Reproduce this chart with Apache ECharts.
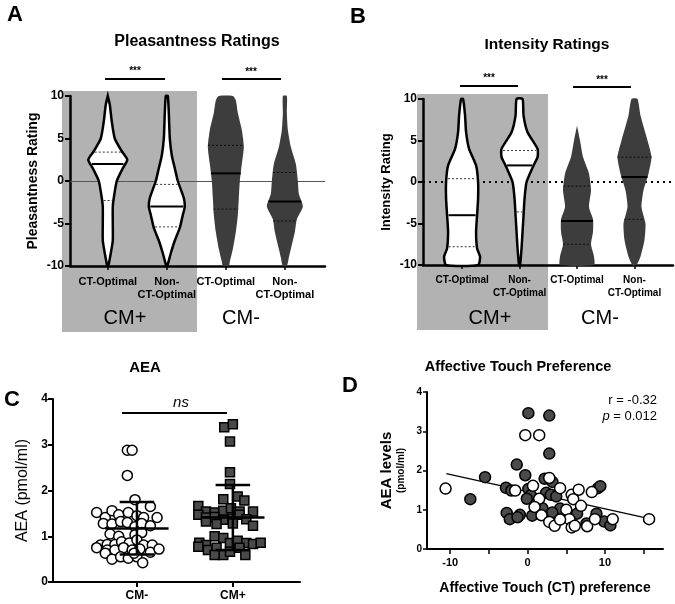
<!DOCTYPE html>
<html>
<head>
<meta charset="utf-8">
<script src="https://cdn.jsdelivr.net/npm/echarts@6/dist/echarts.min.js"></script>
<style>html,body{margin:0;padding:0;background:#fff}#main{width:675px;height:604px}</style>
</head>
<body>
<div id="main"></div>
<script>
// violin profiles: [rating, density(px half width)]
var pleasCtPlus = [[10,0],[9,2],[7,4],[5,7],[3.5,14],[2.5,19.5],[1.5,15],[0,9],[-2,6],[-3,5],[-5,5],[-7,5],[-8.5,3],[-10,0.5]];
var pleasNonPlus = [[10,1],[8,2],[5,3],[3,5],[1.5,8],[0,11],[-2,17],[-3,18],[-4,16],[-5.5,13],[-7,8],[-8.5,4],[-10,0.5]];
var pleasCtMinus = [[10,7],[9.5,10],[8,12],[6,16],[4,18],[2,16],[0,14],[-2,13],[-4,12],[-6,10],[-8,7],[-9.5,4],[-10,3]];
var pleasNonMinus = [[10,2],[8,2],[6,3],[4,6],[2,11],[0,13],[-1.5,14],[-3,18],[-4.5,12],[-6,10],[-8,6],[-9,4],[-10,2]];
var intCtPlus = [[10,1],[8,3],[6,4],[4,7],[2,14],[0,16],[-2,16],[-4,15],[-6,14],[-8,15],[-9,18],[-10,16]];
var intNonPlus = [[10,3],[8,4],[6,8],[4,18],[3,18],[2,14],[0,7],[-2,5],[-4,4],[-6,3],[-8,2],[-10,0.5]];
var intCtMinus = [[6.8,0],[5,3],[3,6],[1,12],[-1,14],[-3,12],[-4.5,16],[-6,16],[-7.5,14],[-9,17],[-10,17]];
var intNonMinus = [[10,3],[8,6],[5,13],[3,17],[1,14],[-1,9],[-3,7],[-5,11],[-7,10],[-9,6],[-10,2]];
// [median, upper quartile, lower quartile]
var pleasStats = [[2,3.4,-2.3],[-3,-0.4,-5.4],[0.9,4.2,-3.3],[-2.4,1.0,-4.7]];
var intStats = [[-4,0.4,-7.8],[2,3.8,-3.6],[-4.7,-0.5,-7.5],[0.6,3.0,-4.5]];
var violinLabels = ['CT-Optimal', 'Non-\nCT-Optimal', 'CT-Optimal', 'Non-\nCT-Optimal'];

// AEA: [jitter offset, value]
var aeaMinus = [[-0.1,2.88],[-0.05,2.88],[-0.1,2.33],[-0.02,1.8],
  [-0.42,1.52],[-0.33,1.41],[-0.26,1.56],[-0.19,1.47],[-0.09,1.52],[0,1.45],[0.07,1.41],[0.14,1.65],[0.21,1.41],
  [-0.35,1.28],[-0.26,1.27],[-0.17,1.32],[-0.1,1.3],[-0.02,1.21],[0.05,1.28],[0.14,1.23],
  [-0.28,1.05],[-0.19,1.0],[-0.02,1.03],[0.05,1.08],
  [-0.38,0.81],[-0.31,0.82],[-0.23,0.82],[-0.16,0.88],[-0.08,0.85],[0,0.92],[0.07,0.81],[0.16,0.81],
  [-0.42,0.75],[-0.31,0.7],[-0.23,0.7],[-0.14,0.75],[-0.05,0.7],[0.03,0.72],[0.14,0.65],[0.23,0.72],
  [-0.33,0.63],[-0.26,0.5],[-0.17,0.55],[-0.09,0.52],[0,0.55],[0.06,0.42],[-0.03,0.63]];
var aeaPlus = [[-0.09,3.38],[0,3.45],[-0.03,3.07],[-0.03,2.4],[-0.03,2.14],[-0.1,1.81],[0.05,1.87],[0.12,1.78],
  [-0.36,1.66],[-0.28,1.54],[-0.19,1.52],[-0.1,1.56],[-0.02,1.61],[0.07,1.54],[0.21,1.54],
  [-0.36,1.47],[-0.28,1.41],[-0.19,1.42],[-0.1,1.36],[0,1.39],[0.07,1.47],[0.14,1.37],
  [-0.28,1.32],[-0.17,1.27],[0,1.28],[0.21,1.23],
  [-0.35,0.86],[-0.28,0.81],[-0.19,1.0],[-0.1,0.96],[-0.03,0.85],[0.05,0.9],[0.14,0.85],[0.21,0.83],[0.29,0.86],
  [-0.36,0.77],[-0.26,0.7],[-0.17,0.75],[-0.1,0.59],[-0.03,0.66],[0.07,0.75],[0.13,0.59],[-0.19,0.59]];
var aeaMeanSd = [[1.17,0.6,1.75],[1.41,0.7,2.12]];
var aeaCats = ['CM-', 'CM+'];

// affective touch preference vs AEA
var touchCmPlus = [[0.1,3.46],[2.8,3.4],[2.8,2.43],[-1.4,2.15],[-5.5,1.83],[-0.3,1.88],[2.2,1.79],[3.2,1.71],
  [-2.8,1.56],[-2.1,1.49],[0.1,1.53],[0.4,1.37],[-0.1,1.28],[2.4,1.43],[3.0,1.38],[3.7,1.34],[9.1,1.55],[9.4,1.6],
  [-7.4,1.27],[1.9,1.04],[4.2,1.03],[0.6,0.85],[-2.7,0.92],[-1.0,0.87],[-2.3,0.76],[-1.3,0.81],[3.2,0.93],
  [5.2,0.89],[6.4,0.9],[8.9,0.9],[9.9,0.7],[7.6,0.65],[10.7,0.6]];
var touchCmMinus = [[-10.6,1.54],[-0.3,2.9],[1.5,2.9],[-1.6,1.49],[0.7,1.61],[1.5,1.28],[0.9,1.07],[1.8,0.86],
  [2.8,0.69],[3.5,0.59],[4.2,1.55],[2.8,1.81],[5.7,1.38],[5.9,1.27],[6.6,1.51],[6.9,1.1],[5.0,1.0],[5.4,0.76],
  [4.2,0.75],[5.7,0.55],[6.1,0.59],[7.7,0.58],[8.3,1.45],[8.7,0.76],[11.0,0.76],[15.7,0.76]];
var fitLine = [[-10.5,1.92],[16,0.76]];

var FONT = 'Liberation Sans';
var chart = echarts.init(document.getElementById('main'));

function hwAt(prof, y) {
  for (var i = 0; i < prof.length - 1; i++) {
    var a = prof[i], b = prof[i + 1];
    if (y <= a[0] && y >= b[0]) return a[1] + (b[1] - a[1]) * (a[0] - y) / (a[0] - b[0]);
  }
  return 0;
}

// first two violins of a panel are outlined white (CM+), last two filled dark (CM-)
function violinSeries(gi, profiles, stats) {
  return {
    type: 'custom', xAxisIndex: gi, yAxisIndex: gi, z: 5,
    data: profiles.map(function (p, i) { return [i + 1, 0]; }),
    renderItem: function (params, api) {
      var i = api.value(0) - 1, prof = profiles[i], st = stats[i], dark = i >= 2;
      var c = api.coord([i + 1, 0])[0];
      var pts = [];
      prof.forEach(function (p) { pts.push([c + p[1], api.coord([0, p[0]])[1]]); });
      prof.slice().reverse().forEach(function (p) { pts.push([c - p[1], api.coord([0, p[0]])[1]]); });
      var kids = [{ type: 'polygon', shape: { points: pts, smooth: 0.2 },
        style: dark ? { fill: '#3d3d3d' } : { fill: '#fff', stroke: '#000', lineWidth: 2.5 } }];
      st.forEach(function (v, k) {
        var w = hwAt(prof, v) - (dark ? 0 : 1.5), y = api.coord([0, v])[1];
        kids.push({ type: 'line', shape: { x1: c - w, y1: y, x2: c + w, y2: y },
          style: { stroke: '#000', lineWidth: k === 0 ? 2 : 0.8, lineDash: k === 0 ? null : [2, 2] } });
      });
      return { type: 'group', children: kids };
    }
  };
}

function violinAxes(gi, min, max, name, labelSize) {
  return {
    x: { type: 'value', gridIndex: gi, min: min, max: max, splitLine: { show: false },
      axisLine: { onZero: false, lineStyle: { color: '#000', width: 2.5 } },
      axisTick: { customValues: [1, 2, 3, 4], lineStyle: { color: '#000', width: 1.5 }, length: 4 },
      axisLabel: { customValues: [1, 2, 3, 4], formatter: function (v) { return violinLabels[v - 1]; },
        hideOverlap: false, showMinLabel: true, showMaxLabel: true,
        fontFamily: FONT, fontWeight: 'bold', fontSize: labelSize, color: '#000', lineHeight: 13, margin: 9 } },
    y: { type: 'value', gridIndex: gi, min: -10, max: 10, interval: 5, splitLine: { show: false },
      name: name, nameLocation: 'middle', nameGap: 30,
      nameTextStyle: { fontFamily: FONT, fontWeight: 'bold', fontSize: 14, color: '#000' },
      axisLine: { show: true, onZero: false, lineStyle: { color: '#000', width: 2.5 } },
      axisTick: { show: true, length: 5, lineStyle: { color: '#000', width: 2 } },
      axisLabel: { fontFamily: FONT, fontWeight: 'bold', fontSize: 12, color: '#000', margin: 6 } }
  };
}

var axA = violinAxes(0, 0.36, 4.68, 'Pleasantness Rating', 11);
var axB = violinAxes(1, 0.32, 4.67, 'Intensity Rating', 10);
axB.y.nameTextStyle.fontSize = 13;

var t = function (x, y, s, st) {
  return { type: 'text', x: x, y: y, z: 50, style: Object.assign({ text: s, fontFamily: FONT, fill: '#000',
    align: 'center', verticalAlign: 'middle', fontSize: 12, fontWeight: 'bold' }, st || {}) };
};
var ln = function (x1, y1, x2, y2, w) {
  return { type: 'line', z: 50, shape: { x1: x1, y1: y1, x2: x2, y2: y2 }, style: { stroke: '#000', lineWidth: w || 2 } };
};

function dotsSeries(arr, cx, sym, fill) {
  return { type: 'scatter', xAxisIndex: 2, yAxisIndex: 2, symbol: sym, symbolSize: sym === 'rect' ? 9 : 10, z: 4,
    itemStyle: { color: fill, borderColor: '#000', borderWidth: 1.5, opacity: 1 },
    data: arr.map(function (p) { return [cx + p[0], p[1]]; }) };
}

var option = {
  backgroundColor: '#fff',
  animation: false,
  grid: [
    { left: 70, right: 350, top: 96, bottom: 338 },
    { left: 423, right: 2, top: 99, bottom: 339 },
    { left: 53, right: 375, top: 399, bottom: 22 },
    { left: 427, right: 12, top: 392, bottom: 55 }
  ],
  xAxis: [axA.x, axB.x,
    { type: 'value', gridIndex: 2, min: 0.125, max: 2.7, splitLine: { show: false },
      axisLine: { onZero: false, lineStyle: { color: '#000', width: 2 } },
      axisTick: { customValues: [1, 2], lineStyle: { color: '#000', width: 2 } },
      axisLabel: { customValues: [1, 2], formatter: function (v) { return aeaCats[v - 1]; },
        fontFamily: FONT, fontWeight: 'bold', fontSize: 12, color: '#000' } },
    { type: 'value', gridIndex: 3, min: -13, max: 17.5, splitLine: { show: false },
      name: 'Affective Touch (CT) preference', nameLocation: 'middle', nameGap: 32,
      nameTextStyle: { fontFamily: FONT, fontWeight: 'bold', fontSize: 14, color: '#000' },
      axisLine: { onZero: false, lineStyle: { color: '#000', width: 2 } },
      axisTick: { customValues: [-10, -5, 0, 5, 10, 15], lineStyle: { color: '#000', width: 1.5 } },
      axisLabel: { customValues: [-10, 0, 10], fontFamily: FONT, fontWeight: 'bold', fontSize: 11, color: '#000' } }
  ],
  yAxis: [axA.y, axB.y,
    { type: 'value', gridIndex: 2, min: 0, max: 4, interval: 1, splitLine: { show: false },
      name: 'AEA (pmol/ml)', nameLocation: 'middle', nameGap: 22,
      nameTextStyle: { fontFamily: FONT, fontSize: 16, color: '#000' },
      axisLine: { show: true, onZero: false, lineStyle: { color: '#000', width: 2 } },
      axisTick: { show: true, lineStyle: { color: '#000', width: 2 } },
      axisLabel: { fontFamily: FONT, fontWeight: 'bold', fontSize: 12, color: '#000', margin: 5 } },
    { type: 'value', gridIndex: 3, min: 0, max: 4, interval: 1, splitLine: { show: false },
      name: '{a|AEA levels}\n{b|(pmol/ml)}', nameLocation: 'middle', nameGap: 20,
      nameTextStyle: { fontFamily: FONT, color: '#000',
        rich: { a: { fontFamily: FONT, fontWeight: 'bold', fontSize: 15, lineHeight: 17 },
                b: { fontFamily: FONT, fontWeight: 'bold', fontSize: 10, lineHeight: 12 } } },
      axisLine: { show: true, onZero: false, lineStyle: { color: '#000', width: 2 } },
      axisTick: { show: true, length: 4, lineStyle: { color: '#000', width: 1.5 } },
      axisLabel: { fontFamily: FONT, fontWeight: 'bold', fontSize: 10, color: '#000', margin: 5 } }
  ],
  series: [
    Object.assign(violinSeries(0, [pleasCtPlus, pleasNonPlus, pleasCtMinus, pleasNonMinus], pleasStats),
      { markLine: { silent: true, symbol: 'none', label: { show: false },
        lineStyle: { color: '#555', width: 1, type: 'solid' }, data: [{ yAxis: 0 }] } }),
    Object.assign(violinSeries(1, [intCtPlus, intNonPlus, intCtMinus, intNonMinus], intStats),
      { markLine: { silent: true, symbol: 'none', label: { show: false },
        lineStyle: { color: '#000', width: 2, type: [2, 4] }, data: [{ yAxis: 0 }] } }),
    dotsSeries(aeaMinus, 1, 'circle', '#fff'),
    dotsSeries(aeaPlus, 2, 'rect', '#4a4a4a'),
    { type: 'custom', xAxisIndex: 2, yAxisIndex: 2, z: 6,
      data: aeaMeanSd.map(function (m, i) { return [i + 1, m[0], m[1], m[2]]; }),
      renderItem: function (params, api) {
        var cx = api.value(0), s = { stroke: '#000', lineWidth: 2.5 };
        var p = function (dx, v) { return api.coord([cx + dx, v]); };
        var a = p(-0.33, api.value(1)), b = p(0.33, api.value(1)),
            lo = p(0, api.value(2)), hi = p(0, api.value(3)),
            cl = p(-0.18, api.value(3)), cr = p(0.18, api.value(3)),
            ll = p(-0.18, api.value(2)), lr = p(0.18, api.value(2));
        return { type: 'group', children: [
          { type: 'line', shape: { x1: a[0], y1: a[1], x2: b[0], y2: b[1] }, style: s },
          { type: 'line', shape: { x1: lo[0], y1: lo[1], x2: hi[0], y2: hi[1] }, style: s },
          { type: 'line', shape: { x1: cl[0], y1: cl[1], x2: cr[0], y2: cr[1] }, style: s },
          { type: 'line', shape: { x1: ll[0], y1: ll[1], x2: lr[0], y2: lr[1] }, style: s }
        ] };
      } },
    { type: 'scatter', xAxisIndex: 3, yAxisIndex: 3, symbolSize: 11, z: 4,
      itemStyle: { color: '#4a4a4a', borderColor: '#000', borderWidth: 1.5, opacity: 1 }, data: touchCmPlus },
    { type: 'scatter', xAxisIndex: 3, yAxisIndex: 3, symbolSize: 11, z: 4,
      itemStyle: { color: '#fff', borderColor: '#000', borderWidth: 1.5, opacity: 1 }, data: touchCmMinus },
    { type: 'line', xAxisIndex: 3, yAxisIndex: 3, symbol: 'none', z: 3,
      lineStyle: { color: '#000', width: 1.2 }, data: fitLine }
  ],
  graphic: [
    { type: 'rect', z: -10, shape: { x: 62, y: 91, width: 135, height: 241 }, style: { fill: '#b2b2b2' } },
    { type: 'rect', z: -10, shape: { x: 417, y: 94, width: 131, height: 236 }, style: { fill: '#b2b2b2' } },
    t(15, 15, 'A', { fontSize: 22 }),
    t(358, 17, 'B', { fontSize: 22 }),
    t(12, 400, 'C', { fontSize: 22 }),
    t(350, 386, 'D', { fontSize: 22 }),
    t(197, 42, 'Pleasantness Ratings', { fontSize: 16 }),
    t(547, 45, 'Intensity Ratings', { fontSize: 15.5 }),
    t(135, 71, '***', { fontSize: 10 }), ln(105, 79, 165, 79),
    t(251, 72, '***', { fontSize: 10 }), ln(222, 79, 281, 79),
    t(489, 78, '***', { fontSize: 10 }), ln(460, 86, 518, 86),
    t(602, 80, '***', { fontSize: 10 }), ln(573, 87, 631, 87),
    t(125, 318, 'CM+', { fontSize: 20, fontWeight: 'normal' }),
    t(241, 318, 'CM-', { fontSize: 20, fontWeight: 'normal' }),
    t(490, 318, 'CM+', { fontSize: 20, fontWeight: 'normal' }),
    t(600, 318, 'CM-', { fontSize: 20, fontWeight: 'normal' }),
    t(145, 368, 'AEA', { fontSize: 15 }),
    t(518, 367, 'Affective Touch Preference', { fontSize: 14.5 }),
    ln(122, 413, 227, 413),
    t(181, 403, 'ns', { fontSize: 15, fontWeight: 'normal', fontStyle: 'italic' }),
    t(657, 400, 'r = -0.32', { fontSize: 13, fontWeight: 'normal', align: 'right' }),
    { type: 'text', x: 657, y: 416, z: 50, style: { text: '{i|p} = 0.012', align: 'right', verticalAlign: 'middle',
      fontFamily: FONT, fontSize: 13, fill: '#000', rich: { i: { fontStyle: 'italic', fontFamily: FONT, fontSize: 13 } } } }
  ]
};
chart.setOption(option);
</script>
</body>
</html>
